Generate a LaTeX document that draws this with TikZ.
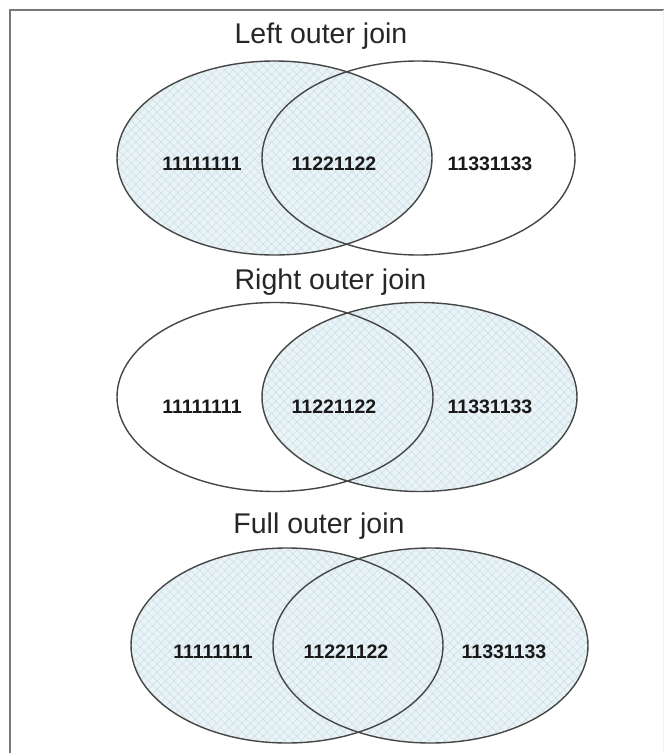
\documentclass[tikz,border=0pt]{standalone}
\usepackage{fontspec}
\setmainfont{Liberation Sans}
\usetikzlibrary{patterns.meta}
\definecolor{hatchbg}{RGB}{234,244,247}
\definecolor{hatchln}{RGB}{205,224,231}
\definecolor{outline}{RGB}{70,70,70}
\definecolor{framecol}{RGB}{120,120,120}
\begin{document}
\begin{tikzpicture}[x=1pt,y=-1pt,
  hatched/.style={fill=hatchbg,postaction={pattern={Lines[angle=45,distance=6pt,line width=0.6pt]},pattern color=hatchln},postaction={pattern={Lines[angle=-45,distance=6pt,line width=0.6pt]},pattern color=hatchln}},
  venn/.style={draw=outline,line width=1.4pt},
  title/.style={font=\fontsize{28.5}{30}\selectfont,text=black!85,anchor=base,inner sep=0pt},
  num/.style={font=\fontsize{19.5}{21}\selectfont\bfseries,text=black!90,inner sep=0pt}]
\useasboundingbox (0,0) rectangle (664,753);
\fill[white] (0,0) rectangle (664,753);
% frame
\draw[framecol,line width=2pt] (10,753) -- (10,10) -- (664,10);
\draw[black!6,line width=0.8pt] (663,10) -- (663,753);

% ---------- Left outer join ----------
\node[title] (t1) at (321,43) {Left outer join};
\path[hatched] (274.5,158) ellipse [x radius=157.5, y radius=97];
\draw[venn] (274.5,158) ellipse [x radius=157.5, y radius=97];
\draw[venn] (418.5,158) ellipse [x radius=156.5, y radius=97];
\node[num] (a1) at (202,163.5) {11111111};
\node[num] (b1) at (334,163.5) {11221122};
\node[num] (c1) at (490,163.5) {11331133};

% ---------- Right outer join ----------
\node[title] (t2) at (330.5,289) {Right outer join};
\path[hatched] (419.5,397) ellipse [x radius=157.5, y radius=94.5];
\draw[venn] (275,397) ellipse [x radius=158, y radius=94.5];
\draw[venn] (419.5,397) ellipse [x radius=157.5, y radius=94.5];
\node[num] (a2) at (202,407) {11111111};
\node[num] (b2) at (334,407) {11221122};
\node[num] (c2) at (490,407) {11331133};

% ---------- Full outer join ----------
\node[title] (t3) at (319,533) {Full outer join};
\path[hatched] (287,645.5) ellipse [x radius=156, y radius=97.5];
\path[hatched] (430.5,645.5) ellipse [x radius=157.5, y radius=97.5];
\draw[venn] (287,645.5) ellipse [x radius=156, y radius=97.5];
\draw[venn] (430.5,645.5) ellipse [x radius=157.5, y radius=97.5];
\node[num] (a3) at (213,651.5) {11111111};
\node[num] (b3) at (346,651.5) {11221122};
\node[num] (c3) at (504,651.5) {11331133};
\end{tikzpicture}
\end{document}
